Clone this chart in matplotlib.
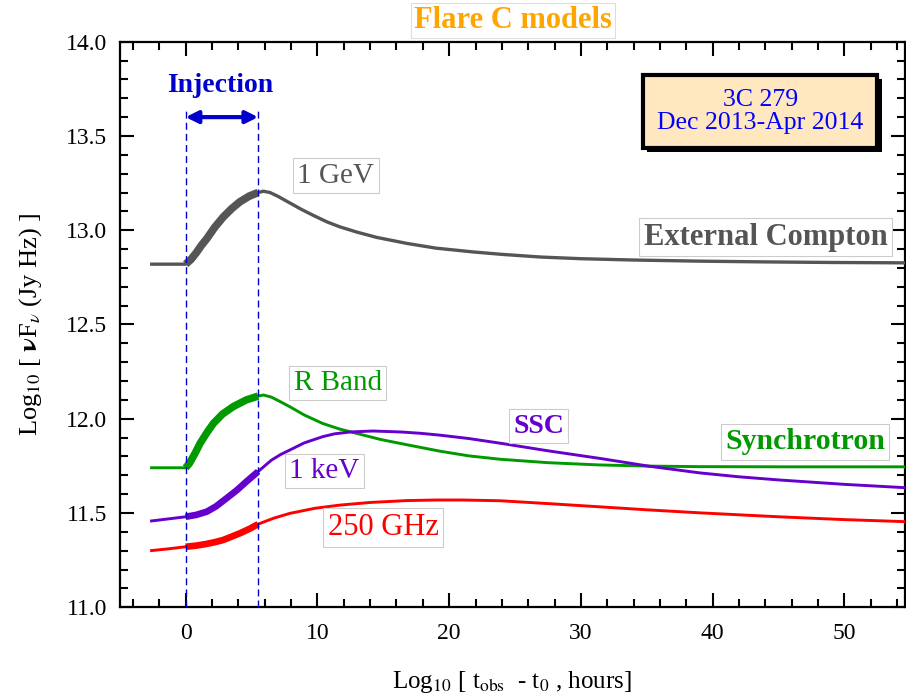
import matplotlib
matplotlib.use('Agg')
import numpy as np
import matplotlib.pyplot as plt
import matplotlib.patheffects as pe

plt.rcParams['font.family'] = ['Liberation Serif', 'DejaVu Serif']
plt.rcParams['mathtext.fontset'] = 'stix'

# injection window (hours)
inj_start = 0.0
inj_end = 5.5

# External Compton, 1 GeV
ec_x = [-2.7, 0, 0.4, 0.8, 1.2, 1.6, 2.2, 2.85, 3.5, 4.1, 4.8, 5.5, 5.9, 6.4, 7.0, 7.9, 8.8, 9.8, 10.7,
        11.7, 13, 14.5, 16.8, 19, 21.8, 24, 26.9, 30, 34, 39, 44, 49, 54.7]
ec_y = [12.82, 12.82, 12.845, 12.88, 12.92, 12.955, 13.015, 13.07, 13.115, 13.15, 13.18, 13.20, 13.207,
        13.20, 13.18, 13.145, 13.11, 13.075, 13.045, 13.018, 12.99, 12.962, 12.93, 12.905, 12.885, 12.872,
        12.858, 12.849, 12.842, 12.836, 12.832, 12.829, 12.827]

# Synchrotron, R band
rb_x = [-2.7, 0, 0.3, 0.7, 1.1, 1.6, 2.1, 2.8, 3.6, 4.6, 5.5, 5.9, 6.5, 7.2, 7.9, 9.0, 10.4, 11.7, 13.0,
        14.8, 16.8, 19.3, 21.5, 23.9, 27.5, 31.4, 35, 39, 46, 54.7]
rb_y = [11.74, 11.74, 11.765, 11.815, 11.87, 11.925, 11.975, 12.025, 12.064, 12.10, 12.12, 12.126, 12.115,
        12.09, 12.064, 12.02, 11.975, 11.945, 11.922, 11.89, 11.862, 11.828, 11.803, 11.785, 11.767, 11.755,
        11.749, 11.746, 11.745, 11.745]

# SSC, 1 keV
kev_x = [-2.7, 0, 0.8, 1.6, 2.3, 3.1, 3.9, 4.6, 5.5, 6.5, 7.2, 7.9, 9.0, 10.4, 11.3, 12.5, 14.2, 16.3,
         17.8, 19.3, 21.5, 23.9, 27.5, 31.4, 35.2, 39, 42, 45.1, 50, 54.7]
kev_y = [11.457, 11.48, 11.49, 11.507, 11.535, 11.578, 11.622, 11.666, 11.72, 11.78, 11.81, 11.834, 11.872,
         11.905, 11.92, 11.93, 11.935, 11.93, 11.923, 11.913, 11.895, 11.87, 11.83, 11.79, 11.748, 11.713,
         11.692, 11.675, 11.652, 11.634]

# Synchrotron, 250 GHz
mm_x = [-2.7, -1.3, 0, 0.8, 1.5, 2.2, 2.85, 3.5, 4.2, 4.9, 5.5, 6.7, 7.9, 9.8, 11.7, 14, 16.8, 19, 21,
        23.9, 27.5, 31.4, 35, 39, 45, 50, 54.7]
mm_y = [11.300, 11.31, 11.321, 11.327, 11.335, 11.345, 11.357, 11.375, 11.395, 11.418, 11.441, 11.473,
        11.498, 11.525, 11.542, 11.556, 11.566, 11.569, 11.569, 11.565, 11.55, 11.533, 11.517, 11.501,
        11.48, 11.465, 11.454]

curves = [
    (ec_x, ec_y, '#555555', 2.4, 5.6),
    (rb_x, rb_y, '#009900', 2.1, 5.4),
    (kev_x, kev_y, '#6600cc', 2.1, 4.8),
    (mm_x, mm_y, '#ff0000', 2.1, 4.8),
]

fig = plt.figure(figsize=(9.06, 6.93), dpi=100)
ax = fig.add_axes([0.1322, 0.1237, 0.8668, 0.8161])

for x, y, c, lw, lw_thick in curves:
    x = np.array(x)
    y = np.array(y)
    ax.plot(x, y, color=c, lw=lw, solid_capstyle='butt', solid_joinstyle='round', zorder=3)
    m = (x >= inj_start) & (x <= inj_end)
    ax.plot(x[m], y[m], color=c, lw=lw_thick, solid_capstyle='butt', solid_joinstyle='round', zorder=3)

# injection markers
for xv in (inj_start, inj_end):
    ax.plot([xv, xv], [11.0, 13.647], color='#0000cc', lw=1.0, ls=(0, (5, 3)), zorder=4)
ax.annotate('', xy=(inj_start, 13.6), xytext=(inj_end, 13.6),
            arrowprops=dict(arrowstyle='<|-|>', color='#0000cc', lw=3, mutation_scale=18, shrinkA=0, shrinkB=0))
ax.text(2.65, 13.77, 'Injection', color='#0000cc', fontsize=20, fontweight='bold', ha='center', va='center')

lab_box = dict(boxstyle='square,pad=0.15', fc='white', ec='#cccccc', lw=0.8)
ax.text(11.4, 13.29, '1 GeV', color='#555555', fontsize=21, ha='center', va='center', bbox=lab_box)
ax.text(11.55, 12.19, 'R Band', color='#009900', fontsize=21, ha='center', va='center', bbox=lab_box)
ax.text(10.53, 11.723, '1 keV', color='#6600cc', fontsize=21, ha='center', va='center', bbox=lab_box)
ax.text(15.0, 11.423, '250 GHz', color='#ff0000', fontsize=22, ha='center', va='center', bbox=lab_box)
ax.text(44.0, 12.964, 'External Compton', color='#555555', fontsize=22, fontweight='bold',
        ha='center', va='center', bbox=lab_box)
ax.text(26.8, 11.961, 'SSC', color='#6600cc', fontsize=20, fontweight='bold', ha='center', va='center', bbox=lab_box)
ax.text(47.0, 11.878, 'Synchrotron', color='#009900', fontsize=21.5, fontweight='bold',
        ha='center', va='center', bbox=lab_box)

src = ax.text(43.6, 13.63, '3C 279\nDec 2013-Apr 2014', color='#0000ff', fontsize=18.5, ha='center', va='center',
              linespacing=1.05,
              bbox=dict(boxstyle='square,pad=0.55', fc='#ffe8c0', ec='black', lw=3))
src.get_bbox_patch().set_path_effects([pe.SimplePatchShadow(offset=(3, -3), shadow_rgbFace='black', alpha=1),
                                       pe.Normal()])

fig.text(0.566, 0.97, 'Flare C models', color='#ffa500', fontsize=22, fontweight='bold', ha='center', va='center',
         bbox=dict(boxstyle='square,pad=0.1', fc='white', ec='#dddddd', lw=0.8))

ax.set_xlim(-5, 54.6)
ax.set_ylim(11.0, 14.0)
ax.set_xticks([0, 10, 20, 30, 40, 50])
ax.set_xticks(np.arange(-4, 55, 2), minor=True)
ax.set_yticks(np.arange(11.0, 14.01, 0.5))
ax.set_yticks(np.arange(11.0, 14.01, 0.1), minor=True)
ax.yaxis.set_major_formatter(matplotlib.ticker.FormatStrFormatter('%.1f'))
ax.tick_params(which='both', direction='in', top=True, right=True, labelsize=17, width=1.5)
ax.tick_params(axis='x', which='both', pad=11)
ax.tick_params(axis='y', which='both', pad=9)
ax.tick_params(which='major', length=10)
ax.tick_params(which='minor', length=6)
for s in ax.spines.values():
    s.set_linewidth(1.6)

ax.set_xlabel(r'Log$_{10}$ [ t$_{\rm obs}$  - t$_0$ , hours]', fontsize=18, labelpad=18)
ax.set_ylabel(r'Log$_{10}$ [ $\mathbf{\nu}$F$_\nu$ (Jy Hz) ]', fontsize=19, labelpad=16)

fig.savefig('out.png', dpi=100)
